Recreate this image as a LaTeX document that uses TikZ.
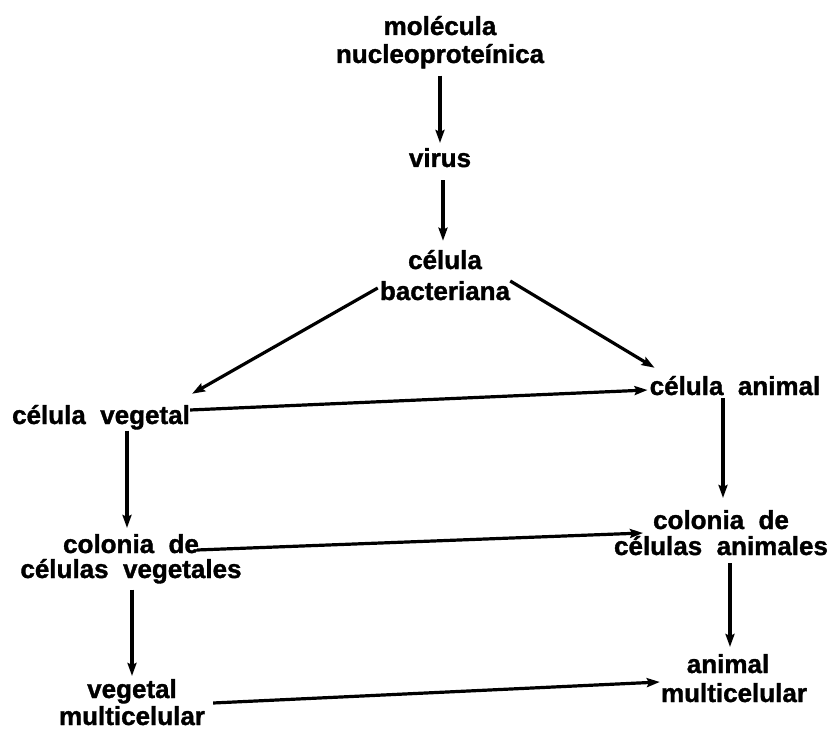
\documentclass[tikz,border=0pt]{standalone}
\usepackage{fontspec}
\newfontfamily\lblfont{Liberation Sans}[WordSpace=2.0, BoldFeatures={FakeBold=1.3}]
\usetikzlibrary{arrows.meta,calc}
\begin{document}
\begin{tikzpicture}[x=1pt,y=-1pt,
  lbl/.style={font=\lblfont\bfseries\fontsize{26}{27}\selectfont, align=center, inner sep=0pt, anchor=base},
  arr/.style={line width=3.2pt, -{Stealth[length=13pt,width=9pt,inset=2pt]}}]
\fill[white] (0,0) rectangle (831,733);
\useasboundingbox (0,0) rectangle (831,733);
\node[lbl] (mol)    at (440,63)  {molécula\\[1pt]nucleoproteínica};
\node[lbl] (virus)  at (440,167) {virus};
\node[lbl] (bact)   at (445,300) {célula\\[4pt]bacteriana};
\node[lbl] (cveg)   at (101,424) {célula vegetal};
\node[lbl] (cani)   at (735,395) {célula animal};
\node[lbl] (colveg) at (131,578) {colonia de\\[-2pt]células vegetales};
\node[lbl] (colani) at (721,555) {colonia de\\[-1pt]células animales};
\node[lbl] (vegm)   at (132,725) {vegetal\\multicelular};
\node[lbl] (animm)  at (734,702) {animal\hspace*{12pt}\\[2pt]multicelular};
% connectors
\draw[arr] ($(mol.south)+(0,7)$) -- ($(virus.north)+(0,-5)$);
\draw[arr] ($(virus.south)+(3,13)$) -- ($(virus.south |- bact.north)+(3,-9)$);
\draw[arr] ($(bact.base west)+(-2,-12)$) -- ($(cveg.north east)+(2,-11)$);
\draw[arr] ($(bact.base east)+(0,-19)$) -- ($(cani.north west)+(5,-8)$);
\draw[arr] ($(cveg.base east)+(0,-14)$) -- ($(cani.base west)+(-2,-5)$);
\draw[arr] ($(cveg.south)+(26,1)$) -- ($(cveg.south |- colveg.north)+(26,-6)$);
\draw[arr] ($(cani.south)+(-12,3)$) -- ($(cani.south |- colani.north)+(-12,-12)$);
\draw[arr] ($(colveg.base)+(66,-28)$) -- ($(colani.base)+(-78,-22)$);
\draw[arr] ($(colveg.south)+(1,6)$) -- ($(colveg.south |- vegm.north)+(1,-3)$);
\draw[arr] ($(colani.south)+(9,8)$) -- ($(colani.south |- animm.north)+(9,-7)$);
\draw[arr] ($(vegm.base east)+(8,-22)$) -- ($(animm.base west)+(-1,-20)$);
\end{tikzpicture}
\end{document}
